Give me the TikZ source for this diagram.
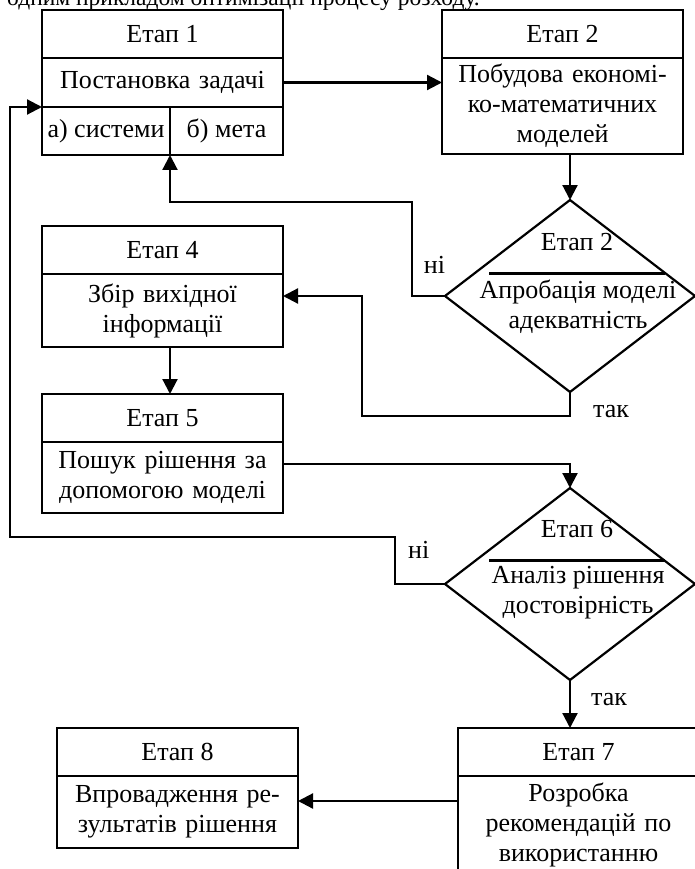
\documentclass[tikz,border=0pt]{standalone}
\usepackage{fontspec}
\setmainfont{Liberation Serif}
\usepackage{tikz}
\usetikzlibrary{shapes.geometric, arrows.meta, positioning, calc}

\begin{document}
\begin{tikzpicture}[x=1pt, y=-1pt, node distance=0pt, font=\fontsize{26}{30}\selectfont]
    % Styles
    \tikzstyle{head} = [rectangle, draw, line width=2.2pt, minimum width=241pt, minimum height=48pt, inner sep=0pt, outer sep=0pt]
    \tikzstyle{body} = [rectangle, draw, line width=2.2pt, text width=241pt, align=center, inner sep=0pt, outer sep=0pt]
    \tikzstyle{part} = [rectangle, draw, line width=2.2pt, minimum height=48pt, inner sep=0pt, outer sep=0pt]
    \tikzstyle{decision} = [diamond, draw, line width=2.2pt, minimum width=250pt, minimum height=192pt, inner sep=0pt, outer sep=0pt]
    \tikzstyle{line} = [draw, line width=2.2pt, -{Triangle[length=15pt,width=15pt]}]
    \tikzstyle{wire} = [draw, line width=2.2pt]
    \tikzstyle{answer} = [inner sep=0pt, align=center]

    \useasboundingbox (0,0) rectangle (694,869);

    % Text above the picture
    \node [answer, anchor=base west, font=\fontsize{23.5}{28}\selectfont] (intro) at (7,6) {одним прикладом оптимізації процесу розходу.};

    % Stage 1
    \node [head, anchor=north west] (h1) at (42,10) {Етап 1};
    \node [body, minimum height=49pt, below=0pt of h1] (b1) {Постановка задачі};
    \node [part, minimum width=128pt, below right=0pt of b1.south west] (b1a) {а) системи};
    \node [part, minimum width=113pt, right=0pt of b1a] (b1b) {б) мета};

    % Stage 2
    \node [head, right=159pt of h1] (h2) {Етап 2};
    \node [body, minimum height=96pt, below=0pt of h2] (b2) {Побудова економі-\\ко-математичних\\моделей};
    \node [decision, below=46pt of b2, xshift=7.5pt] (d2) {};
    \node [answer] (d2t) at ([shift={(7,-53.5)}]d2.center) {Етап 2};
    \path [wire] ([shift={(-81,-22.5)}]d2.center) -- ([shift={(95,-22.5)}]d2.center);
    \node [answer] (d2b) at ([shift={(8,11)}]d2.center) {Апробація моделі\\адекватність};

    % Stages 4 and 5
    \node [head, below=119pt of b1] (h4) {Етап 4};
    \node [body, minimum height=73pt, below=0pt of h4] (b4) {Збір вихідної\\інформації};
    \node [head, below=47pt of b4] (h5) {Етап 5};
    \node [body, minimum height=71pt, below=0pt of h5] (b5) {Пошук рішення за\\допомогою моделі};

    % Stage 6
    \node [decision, below=96pt of d2] (d6) {};
    \node [answer] (d6t) at ([shift={(7,-54.5)}]d6.center) {Етап 6};
    \path [wire] ([shift={(-81,-23.5)}]d6.center) -- ([shift={(95,-23.5)}]d6.center);
    \node [answer] (d6b) at ([shift={(8,8.5)}]d6.center) {Аналіз рішення\\достовірність};

    % Stages 7 and 8
    \node [head, below=48pt of d6, xshift=8.5pt] (h7) {Етап 7};
    \node [body, minimum height=97pt, below=0pt of h7] (b7) {Розробка\\рекомендацій по\\використанню};
    \node [head, left=160pt of h7] (h8) {Етап 8};
    \node [body, minimum height=72pt, below=0pt of h8] (b8) {Впровадження ре-\\зультатів рішення};

    % Paths
    \path [line] (b1.east) -- (b1.east -| b2.west);
    \path [line] (b2.south -| d2.north) -- (d2.north);
    \path [line] (d2.west) -- node [answer, above=21pt, xshift=6pt] {ні} ++(-33,0) |- ([yshift=-47pt]b1a.south east) -- (b1a.south east);
    \path [line] (d2.south) -- node [answer, pos=0.8, right=22pt] {так} ++(0,24) -| ([xshift=79pt]b4.east |- d2.west) -- (b4.east |- d2.west);
    \path [line] ([xshift=7.5pt]b4.south) -- ([xshift=7.5pt]h5.north);
    \path [line] ([yshift=13.5pt]b5.east) -| (d6.north);
    \path [line] (d6.west) -- ++(-50,0) -- node [answer, pos=0.72, right=12pt] {ні} ++(0,-47) -| ([xshift=-32pt]b1a.north west) -- (b1a.north west);
    \path [line] (d6.south) -- node [answer, pos=0.4, right=20pt] {так} (d6.south |- h7.north);
    \coordinate (k7) at ([yshift=-25pt]b7.north west);
    \path [line] (k7) -- (k7 -| b8.east);
\end{tikzpicture}
\end{document}
